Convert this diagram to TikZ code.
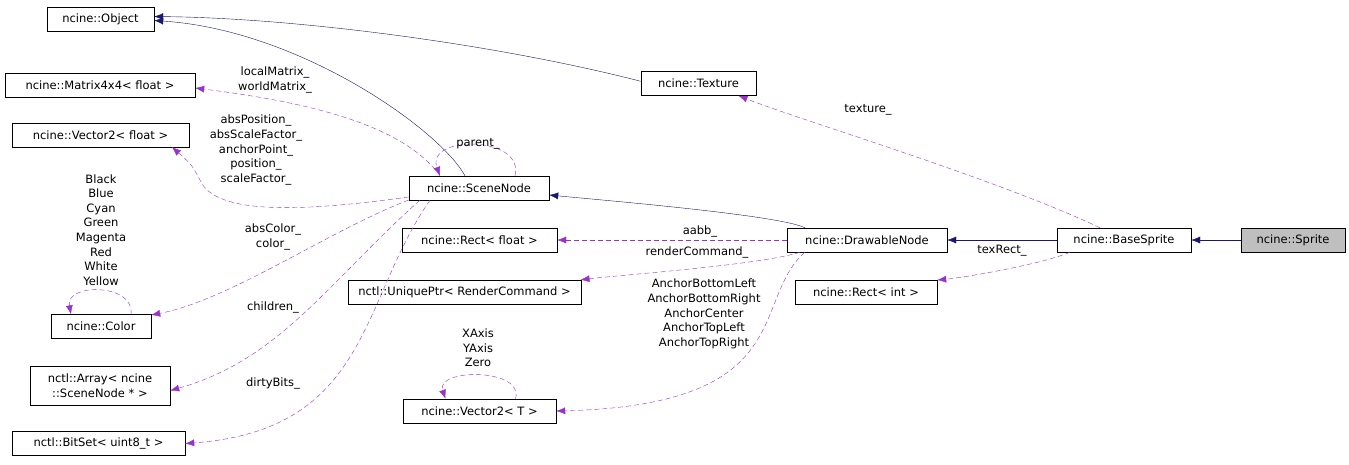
\documentclass[tikz,border=0pt]{standalone}
\usepackage{fontspec}
\setmainfont{DejaVu Sans}
\usetikzlibrary{arrows.meta}
\definecolor{navy}{RGB}{25,25,112}
\definecolor{orchid}{RGB}{153,50,204}
\begin{document}
\begin{tikzpicture}[x=1pt, y=-1pt,
  every node/.style = {font=\fontsize{11.5}{14.6}\selectfont},
  cls/.style = {draw, thin, minimum height=24pt, inner sep=2pt},
  inh/.style = {navy, thin, -{Latex[length=9pt,width=7pt]}},
  use/.style = {orchid, thin, dashed, dash pattern=on 5pt off 3pt, -{Latex[length=9pt,width=7pt]}},
  lbl/.style = {align=center, inner sep=0pt}]
    \useasboundingbox (0,0) rectangle (1349,464);
    % classes
    \node[cls, minimum width=107pt] (obj) at (100.5,19.5) {ncine::Object};
    \node[cls, minimum width=190pt] (mat) at (100,85) {ncine::Matrix4x4< float >};
    \node[cls, minimum width=177pt] (vecf) at (100.5,135) {ncine::Vector2< float >};
    \node[cls, minimum width=100pt] (col) at (101,326.5) {ncine::Color};
    \node[cls, minimum width=140pt, minimum height=39pt, align=center] (arr) at (100,385.5) {nctl::Array< ncine\\::SceneNode * >};
    \node[cls, minimum width=173pt] (bits) at (98.5,443.5) {nctl::BitSet< uint8\_t >};
    \node[cls, minimum width=140pt] (sn) at (479,188) {ncine::SceneNode};
    \node[cls, minimum width=115pt] (tex) at (698.5,83.5) {ncine::Texture};
    \node[cls, minimum width=155pt] (rectf) at (479.5,240) {ncine::Rect< float >};
    \node[cls, minimum width=233pt] (uptr) at (464.5,292) {nctl::UniquePtr< RenderCommand >};
    \node[cls, minimum width=153pt] (vect) at (479.5,411) {ncine::Vector2< T >};
    \node[cls, minimum width=160pt] (dn) at (867,240) {ncine::DrawableNode};
    \node[cls, minimum width=142pt] (recti) at (866,292) {ncine::Rect< int >};
    \node[cls, minimum width=134pt] (bs) at (1124,240) {ncine::BaseSprite};
    \node[cls, minimum width=104pt, fill={rgb,255:red,191;green,191;blue,191}] (spr) at (1293,240) {ncine::Sprite};
    % inheritance
    \draw[inh] ([xshift=-14pt]sn.north) .. controls (440,130) and (300,30) .. ([yshift=-1pt]obj.east);
    \draw[inh] ([yshift=-10pt]tex.north west) .. controls (500,45) and (300,18) .. ([yshift=3pt]obj.east);
    \draw[inh] ([xshift=-62pt]dn.north) .. controls (780,215) and (600,200) .. ([yshift=-7pt]sn.east);
    \draw[inh] (bs) -- (dn);
    \draw[inh] (spr) -- (bs);
    % members
    \draw[use] ([xshift=-39pt]sn.north) .. controls (400,120) and (290,100) .. ([yshift=-3pt]mat.east);
    \node[lbl] (lmat) at (275,80) {localMatrix\_\\worldMatrix\_};
    \draw[use] ([yshift=-9pt]sn.west) .. controls (300,212) and (215,215) .. (200,180) .. controls (192,165) .. (172,147);
    \node[lbl] (lvec) at (256,150) {absPosition\_\\absScaleFactor\_\\anchorPoint\_\\position\_\\scaleFactor\_};
    \draw[use] ([xshift=36pt]sn.north) .. controls (525,135) and (425,135) .. ([xshift=-39pt]sn.north);
    \node[lbl] (lpar) at (478,144) {parent\_};
    \draw[use] ([yshift=-12pt]sn.west) .. controls (330,230) and (230,300) .. ([yshift=11.5pt]col.east);
    \node[lbl] (lcol) at (273,237) {absColor\_\\color\_};
    \draw[use] ([xshift=30pt]col.north) .. controls (135,283) and (65,283) .. ([xshift=-30pt]col.north);
    \node[lbl] (lcolk) at (101,230) {Black\\Blue\\Cyan\\Green\\Magenta\\Red\\White\\Yellow};
    \draw[use] ([xshift=-59pt]sn.south) .. controls (330,280) and (280,360) .. ([yshift=-5pt]arr.east);
    \node[lbl] (lch) at (273,307) {children\_};
    \draw[use] ([xshift=-49pt]sn.south) .. controls (360,300) and (370,430) .. (bits.east);
    \node[lbl] (ldb) at (273,383) {dirtyBits\_};
    \draw[use] (dn) -- (rectf);
    \node[lbl] (laabb) at (700,231) {aabb\_};
    \draw[use] ([xshift=-67pt]dn.south) .. controls (760,265) and (620,275) .. ([xshift=116pt]uptr.north);
    \node[lbl] (lrc) at (697,252) {renderCommand\_};
    \draw[use] ([xshift=-62pt]dn.south) .. controls (750,300) and (800,405) .. (vect.east);
    \node[lbl] (lanc) at (704,314) {AnchorBottomLeft\\AnchorBottomRight\\AnchorCenter\\AnchorTopLeft\\AnchorTopRight};
    \draw[use] ([xshift=36pt]vect.north) .. controls (525,368) and (435,368) .. ([xshift=-34pt]vect.north);
    \node[lbl] (lax) at (478,348) {XAxis\\YAxis\\Zero};
    \draw[use] ([xshift=-24pt]bs.north) .. controls (1000,180) and (800,120) .. ([xshift=40pt]tex.south);
    \node[lbl] (ltex) at (868,110) {texture\_};
    \draw[use] ([xshift=-54pt]bs.south) .. controls (1040,265) and (960,278) .. ([yshift=12pt]recti.east);
    \node[lbl] (ltr) at (1002,251) {texRect\_};
\end{tikzpicture}
\end{document}
